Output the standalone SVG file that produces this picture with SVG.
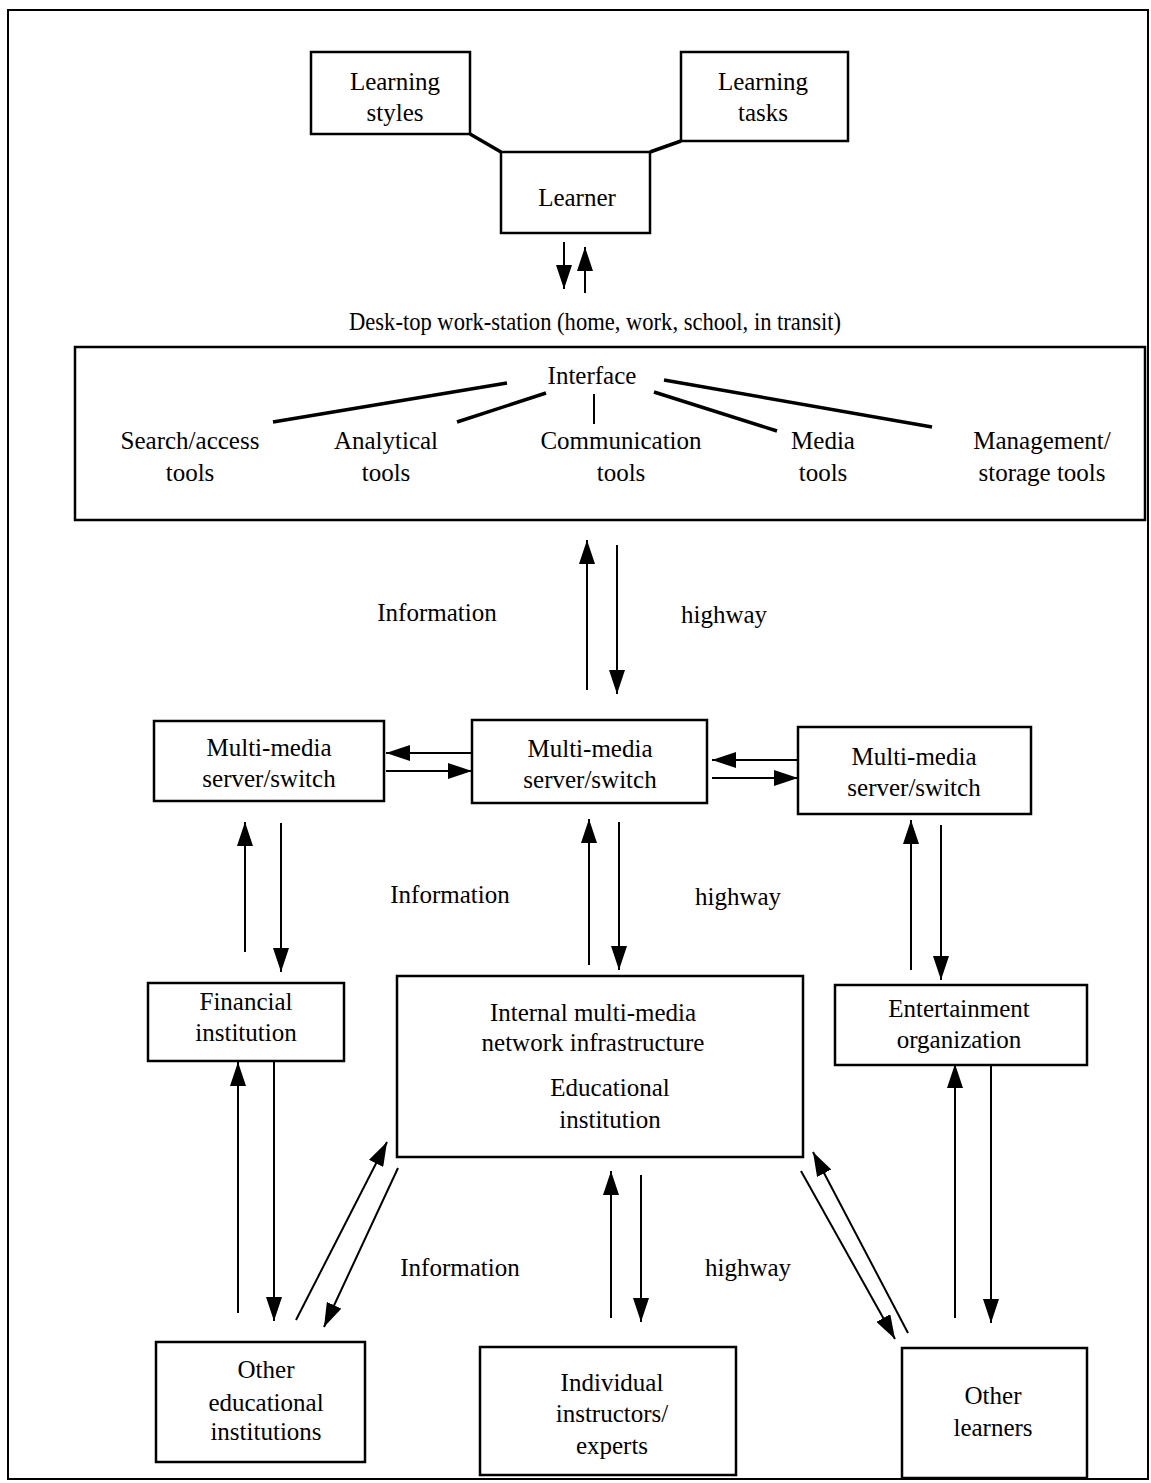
<svg xmlns="http://www.w3.org/2000/svg" width="1151" height="1483" viewBox="0 0 1151 1483">
<style>
text{font-family:"Liberation Serif","Times New Roman",serif;font-size:25px;fill:#000;text-anchor:middle}
.box{fill:#fff;stroke:#000;stroke-width:2.5}
.ln{stroke:#000;stroke-width:2;fill:none}
.thick{stroke:#000;stroke-width:3.5;fill:none}
.ar{stroke:#000;stroke-width:2;fill:none;marker-end:url(#ah)}
</style>
<defs>
<marker id="ah" markerUnits="userSpaceOnUse" markerWidth="26" markerHeight="16" refX="24" refY="8" orient="auto" viewBox="0 0 26 16">
<path d="M0,0 L24,8 L0,16 z" fill="#000"/>
</marker>
</defs>
<rect x="0" y="0" width="1151" height="1483" fill="#fff"/>
<rect x="8" y="10" width="1140" height="1469" fill="none" stroke="#000" stroke-width="2"/>

<g id="learning-styles"><rect class="box" x="311" y="52" width="159" height="82"/><text x="395" y="90">Learning</text><text x="395" y="121">styles</text></g>
<g id="learning-tasks"><rect class="box" x="681" y="52" width="167" height="89"/><text x="763" y="90">Learning</text><text x="763" y="121">tasks</text></g>
<g id="learner"><rect class="box" x="501" y="152" width="149" height="81"/><text x="577" y="206">Learner</text></g>
<g id="desktop-label"><text x="595" y="330" textLength="492" lengthAdjust="spacingAndGlyphs">Desk-top work-station (home, work, school, in transit)</text></g>

<g id="interface">
<rect class="box" x="75" y="347" width="1070" height="173"/>
<text x="592" y="384">Interface</text>
<text x="190" y="449">Search/access</text><text x="190" y="481">tools</text>
<text x="386" y="449">Analytical</text><text x="386" y="481">tools</text>
<text x="621" y="449">Communication</text><text x="621" y="481">tools</text>
<text x="823" y="449">Media</text><text x="823" y="481">tools</text>
<text x="1042" y="449">Management/</text><text x="1042" y="481">storage tools</text>
</g>

<g id="label-info-1"><text x="437" y="621">Information</text><text x="724" y="623">highway</text></g>

<g id="server-left"><rect class="box" x="154" y="721" width="230" height="80"/><text x="269" y="756">Multi-media</text><text x="269" y="787">server/switch</text></g>
<g id="server-mid"><rect class="box" x="472" y="720" width="235" height="83"/><text x="590" y="757">Multi-media</text><text x="590" y="788">server/switch</text></g>
<g id="server-right"><rect class="box" x="798" y="727" width="233" height="87"/><text x="914" y="765">Multi-media</text><text x="914" y="796">server/switch</text></g>

<g id="label-info-2"><text x="450" y="903">Information</text><text x="738" y="905">highway</text></g>

<g id="financial"><rect class="box" x="148" y="983" width="196" height="78"/><text x="246" y="1010">Financial</text><text x="246" y="1041">institution</text></g>
<g id="internal"><rect class="box" x="397" y="976" width="406" height="181"/><text x="593" y="1021">Internal multi-media</text><text x="593" y="1051">network infrastructure</text><text x="610" y="1096">Educational</text><text x="610" y="1128">institution</text></g>
<g id="entertainment"><rect class="box" x="835" y="985" width="252" height="80"/><text x="959" y="1017">Entertainment</text><text x="959" y="1048">organization</text></g>

<g id="label-info-3"><text x="460" y="1276">Information</text><text x="748" y="1276">highway</text></g>

<g id="other-edu"><rect class="box" x="156" y="1342" width="209" height="120"/><text x="266" y="1378">Other</text><text x="266" y="1411">educational</text><text x="266" y="1440">institutions</text></g>
<g id="instructors"><rect class="box" x="480" y="1347" width="256" height="128"/><text x="612" y="1391">Individual</text><text x="612" y="1422">instructors/</text><text x="612" y="1454">experts</text></g>
<g id="other-learners"><rect class="box" x="902" y="1348" width="185" height="130"/><text x="993" y="1404">Other</text><text x="993" y="1436">learners</text></g>

<g id="connectors">
<path class="thick" d="M470,134 L501,152"/>
<path class="thick" d="M650,152 L681,141"/>
<path class="ar" d="M564,242 L564,289"/>
<path class="ar" d="M585,293 L585,247"/>
<path class="thick" d="M507,383 L273,422"/>
<path class="thick" d="M546,393 L457,422"/>
<path class="ln" d="M594,394 L594,424"/>
<path class="thick" d="M654,392 L777,431"/>
<path class="thick" d="M664,380 L932,427"/>
<path class="ar" d="M587,690 L587,540"/>
<path class="ar" d="M617,545 L617,694"/>
<path class="ar" d="M472,753 L386,753"/>
<path class="ar" d="M386,771 L472,771"/>
<path class="ar" d="M798,760 L712,760"/>
<path class="ar" d="M712,778 L798,778"/>
<path class="ar" d="M245,952 L245,822"/>
<path class="ar" d="M281,823 L281,972"/>
<path class="ar" d="M589,965 L589,819"/>
<path class="ar" d="M619,822 L619,970"/>
<path class="ar" d="M911,970 L911,820"/>
<path class="ar" d="M941,825 L941,980"/>
<path class="ar" d="M238,1313 L238,1062"/>
<path class="ar" d="M274,1062 L274,1321"/>
<path class="ar" d="M296,1320 L387,1142"/>
<path class="ar" d="M398,1168 L324,1327"/>
<path class="ar" d="M611,1318 L611,1171"/>
<path class="ar" d="M641,1175 L641,1322"/>
<path class="ar" d="M801,1171 L895,1339"/>
<path class="ar" d="M908,1333 L813,1152"/>
<path class="ar" d="M955,1318 L955,1064"/>
<path class="ar" d="M991,1065 L991,1323"/>
</g>
</svg>
